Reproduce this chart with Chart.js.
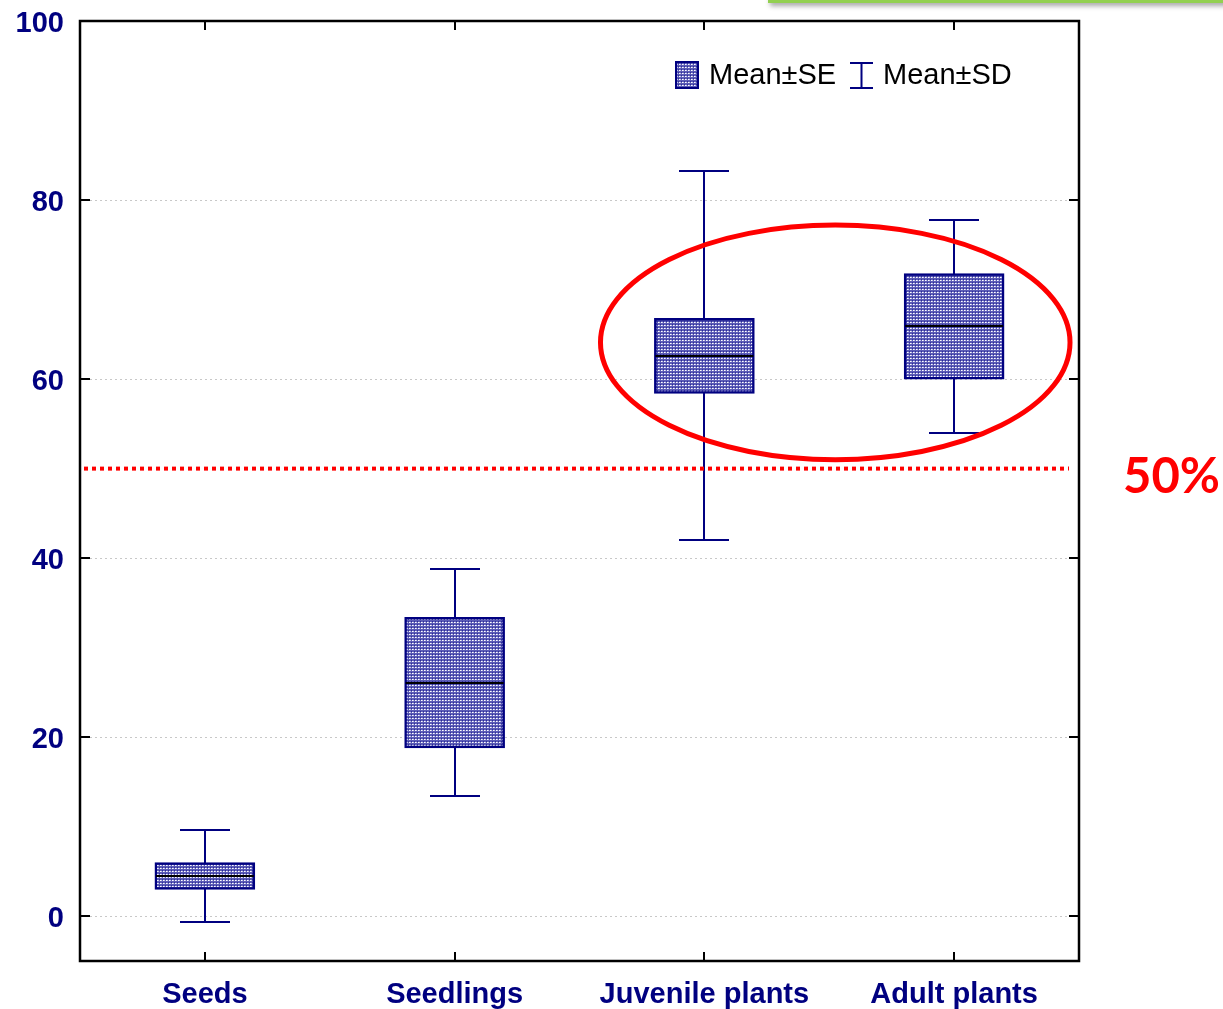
<!DOCTYPE html>
<html>
<head>
<meta charset="utf-8">
<script src="https://cdn.jsdelivr.net/npm/chart.js@4.4.1/dist/chart.umd.min.js"></script>
<style>
  html, body { margin: 0; padding: 0; background: #ffffff; }
  #wrap { position: relative; width: 1223px; height: 1009px; overflow: hidden; }
  #topbar { position: absolute; left: 768px; top: -4px; width: 470px; height: 7px; background: #92d050;
            box-shadow: 2px 3px 5px rgba(0,0,0,0.35); }
  #chart { position: absolute; left: 0; top: 0; }
  #pct { position: absolute; left: 1123px; top: 445px; font-family: Lato, "Open Sans", sans-serif;
         font-weight: bold; font-size: 49px; color: #ff0000; line-height: 58px; }
</style>
</head>
<body>
<div id="wrap">
  <canvas id="chart" width="1223" height="1009"></canvas>
  <div id="topbar"></div>
  <div id="pct">50%</div>
</div>
<script>
// Share of individuals per life stage: mean, standard error, standard deviation
const stages = ['Seeds', 'Seedlings', 'Juvenile plants', 'Adult plants'];
const means  = [4.5, 26.1, 62.6, 65.9];
const se     = [1.5, 7.3, 4.2, 5.9];
const sd     = [5.1, 12.7, 20.6, 11.9];
const yTicks = [0, 20, 40, 60, 80, 100];
const refLevel = 50;          // dotted reference line
const yMin = -5, yMax = 100;

const NAVY = '#000080';

// dotted fill for the mean ± SE boxes
function makePattern() {
  const c = document.createElement('canvas');
  c.width = 3; c.height = 3;
  const g = c.getContext('2d');
  g.fillStyle = '#5c5cb6'; g.fillRect(0, 0, 3, 3);
  g.fillStyle = '#ffffff'; g.fillRect(1, 1, 1, 1);
  g.fillStyle = '#c8c8ec'; g.fillRect(2, 1, 1, 1);
  g.fillStyle = '#2c2c98'; g.fillRect(0, 0, 1, 1);
  return g.createPattern(c, 'repeat');
}
const boxFill = makePattern();

const seRanges = means.map((m, i) => [m - se[i], m + se[i]]);

const frame = {
  id: 'frame',
  beforeDatasetsDraw(chart) {
    const { ctx, scales: { x, y } } = chart;
    // SD whiskers behind the boxes
    ctx.save();
    ctx.strokeStyle = NAVY;
    ctx.lineWidth = 2;
    means.forEach((m, i) => {
      const cx = Math.round(x.getPixelForValue(i));
      const top = Math.round(y.getPixelForValue(m + sd[i]));
      const bot = Math.round(y.getPixelForValue(m - sd[i]));
      ctx.beginPath();
      ctx.moveTo(cx, top); ctx.lineTo(cx, bot);
      ctx.moveTo(cx - 25, top); ctx.lineTo(cx + 25, top);
      ctx.moveTo(cx - 25, bot); ctx.lineTo(cx + 25, bot);
      ctx.stroke();
    });
    ctx.restore();
  },
  afterDatasetsDraw(chart) {
    const { ctx, chartArea: a, scales: { x, y } } = chart;
    ctx.save();
    // mean lines
    ctx.strokeStyle = '#000000';
    ctx.lineWidth = 2;
    means.forEach((m, i) => {
      const cx = x.getPixelForValue(i);
      const py = Math.round(y.getPixelForValue(m));
      ctx.beginPath();
      ctx.moveTo(cx - 49, py); ctx.lineTo(cx + 49, py);
      ctx.stroke();
    });

    // reference line
    const ry = y.getPixelForValue(refLevel);
    ctx.strokeStyle = '#ff0000';
    ctx.lineWidth = 4;
    ctx.setLineDash([4, 4]);
    ctx.beginPath();
    ctx.moveTo(a.left + 4, ry); ctx.lineTo(a.right - 10, ry);
    ctx.stroke();
    ctx.setLineDash([]);

    // plot frame
    ctx.strokeStyle = '#000000';
    ctx.lineWidth = 2.5;
    ctx.strokeRect(a.left, a.top, a.right - a.left, a.bottom - a.top);

    // inward tick marks
    ctx.lineWidth = 2;
    ctx.beginPath();
    yTicks.forEach(v => {
      const py = Math.round(y.getPixelForValue(v));
      ctx.moveTo(a.left, py); ctx.lineTo(a.left + 10, py);
      ctx.moveTo(a.right, py); ctx.lineTo(a.right - 10, py);
    });
    stages.forEach((s, i) => {
      const px = Math.round(x.getPixelForValue(i));
      ctx.moveTo(px, a.top); ctx.lineTo(px, a.top + 9);
      ctx.moveTo(px, a.bottom); ctx.lineTo(px, a.bottom - 9);
    });
    ctx.stroke();

    // highlight ellipse around the last two stages
    const ex = (x.getPixelForValue(2) + x.getPixelForValue(3)) / 2 + 6;
    const ey = y.getPixelForValue(64.1);
    const erx = (x.getPixelForValue(3) - x.getPixelForValue(2)) * 0.94;
    const ery = y.getPixelForValue(51.0) - ey;
    ctx.strokeStyle = '#ff0000';
    ctx.lineWidth = 5;
    ctx.beginPath();
    ctx.ellipse(ex, ey, erx, ery, 0, 0, Math.PI * 2);
    ctx.stroke();

    // legend
    ctx.font = '29px "Liberation Sans", Arial, sans-serif';
    ctx.textBaseline = 'middle';
    ctx.fillStyle = boxFill;
    ctx.fillRect(676, 62, 22, 26);
    ctx.strokeStyle = NAVY;
    ctx.lineWidth = 2;
    ctx.strokeRect(676, 62, 22, 26);
    ctx.fillStyle = '#000000';
    ctx.fillText('Mean±SE', 709, 76);
    ctx.beginPath();
    ctx.moveTo(850, 63); ctx.lineTo(873, 63);
    ctx.moveTo(850, 88); ctx.lineTo(873, 88);
    ctx.moveTo(861.5, 63); ctx.lineTo(861.5, 88);
    ctx.stroke();
    ctx.fillText('Mean±SD', 883, 76);
    ctx.restore();
  }
};

new Chart(document.getElementById('chart'), {
  type: 'bar',
  data: {
    labels: stages,
    datasets: [{
      label: 'Mean±SE',
      data: seRanges,
      backgroundColor: boxFill,
      borderColor: NAVY,
      borderWidth: 2.5,
      borderSkipped: false,
      barThickness: 100
    }]
  },
  options: {
    responsive: false,
    animation: false,
    devicePixelRatio: 1,
    layout: { padding: { top: 21, right: 144, left: 0, bottom: 0 } },
    plugins: { legend: { display: false }, tooltip: { enabled: false } },
    scales: {
      x: {
        offset: true,
        grid: { display: false, drawTicks: false },
        border: { display: false },
        ticks: {
          color: NAVY, padding: 17,
          font: { family: '"Liberation Sans", Arial, sans-serif', size: 29, weight: 'bold' }
        },
        afterFit(s) { s.height = 48; s.paddingLeft = 0; s.paddingRight = 0; }
      },
      y: {
        min: yMin, max: yMax,
        afterBuildTicks(s) { s.ticks = yTicks.map(v => ({ value: v })); },
        grid: { color: '#c8c8c8', lineWidth: 1, drawTicks: false },
        border: { display: false, dash: [2, 3] },
        ticks: {
          color: NAVY, padding: 16, labelOffset: 3,
          font: { family: '"Liberation Sans", Arial, sans-serif', size: 29, weight: 'bold' }
        },
        afterFit(s) { s.width = 80; s.paddingTop = 0; s.paddingBottom = 0; }
      }
    }
  },
  plugins: [frame]
});
</script>
</body>
</html>
